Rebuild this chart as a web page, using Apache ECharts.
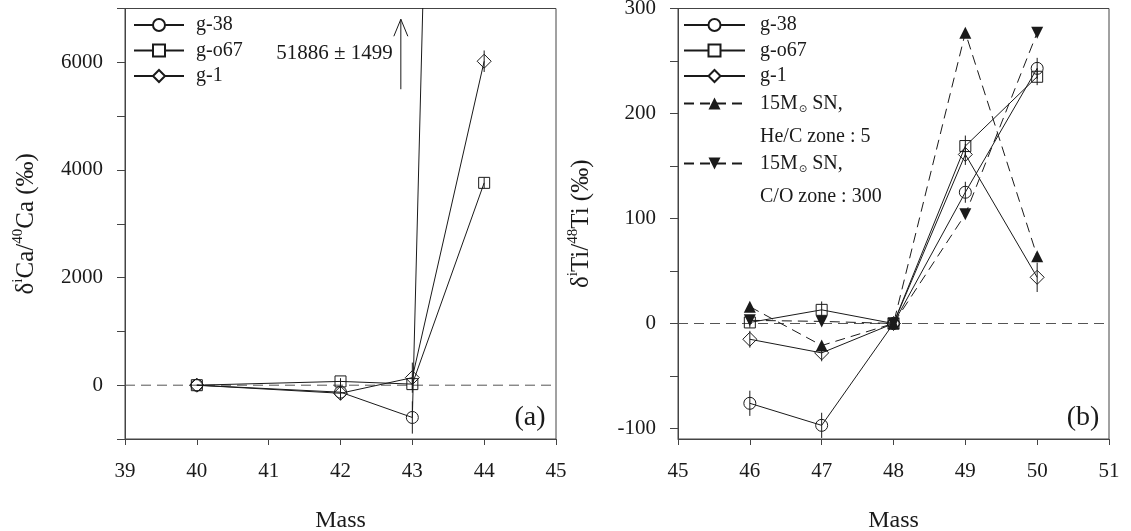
<!DOCTYPE html>
<html><head><meta charset="utf-8">
<script src="https://cdn.jsdelivr.net/npm/echarts@6/dist/echarts.min.js"></script>
<style>html,body{margin:0;padding:0;background:#fff}#c{width:1131px;height:531px}</style>
</head><body><div id="c"></div>
<script>
// ---------- data: panel (a) Ca ----------
const massCa = [40, 42, 43, 44];
const caG38 = [0, -130, -600, 51886];
const caG38Err = [0, 150, 300, 1499];
const caGo67 = [0, 70, 20, 3760];
const caGo67Err = [0, 60, 100, 100];
const caG1 = [0, -150, 140, 6020];
const caG1Err = [0, 120, 280, 200];
const caLabelTicks = [0, 2000, 4000, 6000];
const caXRange = [39, 45];
const caArrow = [42.84, 5500, 6800];      // mass, arrow start, arrow tip (annotation for g-38 at 44)
const caOffscaleValue = 51886;
const caOffscaleErr = 1499;

// ---------- data: panel (b) Ti ----------
const massTi = [46, 47, 48, 49, 50];
const tiG38 = [-76, -97, 0, 125, 243];
const tiG38Err = [12, 12, 0, 10, 10];
const tiGo67 = [1, 13, 0, 169, 235];
const tiGo67Err = [5, 8, 0, 10, 8];
const tiG1 = [-15, -28, 0, 161, 44];
const tiG1Err = [8, 8, 0, 10, 14];
const tiHeC = [16, -21, 0, 277, 64];
const tiCO = [3, 2, 0, 104, 277];
const tiXRange = [45, 51];
const tiLabelTicks = [-100, 0, 100, 200, 300];
const tiMinorTicks = [-100, -50, 0, 50, 100, 150, 200, 250, 300];

// ---------- helpers ----------
const FF = '"Liberation Serif", "Times New Roman", serif';
const INK = '#1a1a1a';
const AX = '#444';
const pts = (xs, ys) => xs.map((x, i) => [x, ys[i]]);
const errs = (xs, ys, es) => xs.map((x, i) => [x, ys[i], es[i]]).filter(d => d[2] > 0);

function zeroSeries(gi, range) {
  return {
    type: 'line', xAxisIndex: gi, yAxisIndex: gi, silent: true, symbol: 'none', z: 1,
    data: [[range[0], 0], [range[1], 0]],
    lineStyle: {color: '#555', width: 1, type: [10, 6]},
    emphasis: {disabled: true}
  };
}
function openSeries(name, gi, data, symbol, size) {
  return {
    name, type: 'line', xAxisIndex: gi, yAxisIndex: gi, data,
    symbol, symbolSize: size, clip: true, z: 3,
    lineStyle: {color: INK, width: 1},
    itemStyle: {color: 'rgba(0,0,0,0)', borderColor: INK, borderWidth: 1},
    emphasis: {disabled: true}
  };
}
function filledSeries(name, gi, data, rotate) {
  return {
    name, type: 'line', xAxisIndex: gi, yAxisIndex: gi, data,
    symbol: 'triangle', symbolSize: 12, symbolRotate: rotate, clip: true, z: 3,
    lineStyle: {color: INK, width: 1, type: [10, 6]},
    itemStyle: {color: INK, borderColor: INK, borderWidth: 0},
    emphasis: {disabled: true}
  };
}
function errSeries(gi, data) {
  return {
    type: 'custom', xAxisIndex: gi, yAxisIndex: gi, clip: true, silent: true, z: 4,
    encode: {x: 0, y: 1},
    data,
    renderItem(params, api) {
      const x = api.value(0), y = api.value(1), e = api.value(2);
      const p1 = api.coord([x, y - e]), p2 = api.coord([x, y + e]);
      return {type: 'line', shape: {x1: p1[0], y1: p1[1], x2: p2[0], y2: p2[1]},
        style: {stroke: INK, lineWidth: 1}};
    }
  };
}

function xAxisCfg(gi, range) {
  return {
    type: 'value', gridIndex: gi, min: range[0], max: range[1], interval: 1,
    axisLine: {show: true, onZero: false, lineStyle: {color: AX, width: 1}},
    axisTick: {show: true, inside: false, length: 6, lineStyle: {color: AX}},
    axisLabel: {margin: 22, fontFamily: FF, fontSize: 21, color: INK},
    splitLine: {show: false},
    name: 'Mass', nameLocation: 'middle', nameGap: 70,
    nameTextStyle: {fontFamily: FF, fontSize: 24, color: INK}
  };
}
const supRich = {
  n: {fontFamily: FF, fontSize: 25, color: INK, lineHeight: 30},
  s: {fontFamily: FF, fontSize: 15, color: INK, verticalAlign: 'top', lineHeight: 30, padding: [0, 0, 9, 0]}
};

const legendRich = (pad) => ({
  t: {fontFamily: FF, fontSize: 20, color: INK, lineHeight: 22, padding: [0, 0, 0, pad]},
  u: {fontFamily: FF, fontSize: 20, color: INK, lineHeight: 33, padding: [0, 0, 0, pad]},
  v: {fontFamily: FF, fontSize: 20, color: INK, lineHeight: 33},
  sun: {fontFamily: '"DejaVu Sans", sans-serif', fontSize: 10, color: INK, lineHeight: 33, padding: [12, 0, 0, 1]},
  sp: {fontSize: 20, lineHeight: 33}
});
const snText = {
  SN5: ['15M', ' SN,', 'He/C zone : 5'],
  SN300: ['15M', ' SN,', 'C/O zone : 300']
};
const snFormatter = (name) => {
  const p = snText[name];
  return '{sp| }\n{u|' + p[0] + '}{sun|⊙}{v|' + p[1] + '}\n{u|' + p[2] + '}';
};
const gLegendData = ['g-38', 'g-o67', 'g-1'].map(n => ({name: n, itemStyle: {color: '#fff'}}));

const option = {
  animation: false,
  backgroundColor: '#fff',
  grid: [
    {left: 125, right: 575, top: 8.5, bottom: 92, show: true, borderColor: AX, borderWidth: 1, backgroundColor: 'rgba(0,0,0,0)', outerBoundsMode: 'none'},
    {left: 678, right: 22, top: 8.5, bottom: 92, show: true, borderColor: AX, borderWidth: 1, backgroundColor: 'rgba(0,0,0,0)', outerBoundsMode: 'none'}
  ],
  xAxis: [xAxisCfg(0, caXRange), xAxisCfg(1, tiXRange)],
  yAxis: [
    {
      type: 'value', gridIndex: 0, min: -1000, max: 7000, interval: 1000,
      axisLine: {show: true, onZero: false, lineStyle: {color: AX}},
      axisTick: {show: true, inside: false, length: 8, lineStyle: {color: AX}},
      axisLabel: {margin: 22, fontFamily: FF, fontSize: 21, color: INK,
        formatter: v => caLabelTicks.includes(v) ? String(v) : ''},
      splitLine: {show: false},
      name: '{n|δ}{s|i}{n|Ca/}{s|40}{n|Ca (‰)}', nameLocation: 'middle', nameGap: 84,
      nameTextStyle: {rich: supRich}
    },
    {
      type: 'value', gridIndex: 1, min: -110, max: 300,
      axisLine: {show: true, onZero: false, lineStyle: {color: AX}},
      axisTick: {show: true, inside: false, length: 8, lineStyle: {color: AX}, customValues: tiMinorTicks},
      axisLabel: {margin: 22, fontFamily: FF, fontSize: 21, color: INK, customValues: tiLabelTicks},
      splitLine: {show: false},
      name: '{n|δ}{s|i}{n|Ti/}{s|48}{n|Ti (‰)}', nameLocation: 'middle', nameGap: 82,
      nameTextStyle: {rich: supRich}
    }
  ],
  legend: [
    {left: 133, top: 15, orient: 'vertical', padding: 0, itemWidth: 50, itemHeight: 15, itemGap: 5.5,
      selectedMode: false, data: gLegendData,
      formatter: n => '{t|' + n + '}', textStyle: {rich: legendRich(7)}},
    {left: 683, top: 15, orient: 'vertical', padding: 0, itemWidth: 61, itemHeight: 15, itemGap: 5.5,
      selectedMode: false, data: gLegendData,
      formatter: n => '{t|' + n + '}', textStyle: {rich: legendRich(10)}},
    {left: 683, top: 60.5, orient: 'vertical', padding: 0, itemWidth: 61, itemHeight: 15,
      selectedMode: false, data: ['SN5'], formatter: snFormatter, textStyle: {rich: legendRich(10)}},
    {left: 683, top: 120.5, orient: 'vertical', padding: 0, itemWidth: 61, itemHeight: 15,
      selectedMode: false, data: ['SN300'], formatter: snFormatter, textStyle: {rich: legendRich(10)}}
  ],
  graphic: [
    {type: 'text', x: 530, y: 418, style: {text: '(a)', fontFamily: FF, fontSize: 28, fill: INK, align: 'center', verticalAlign: 'middle'}},
    {type: 'text', x: 1083, y: 418, style: {text: '(b)', fontFamily: FF, fontSize: 28, fill: INK, align: 'center', verticalAlign: 'middle'}}
  ],
  series: [
    // panel (a)
    zeroSeries(0, caXRange),
    openSeries('g-38', 0, pts(massCa, caG38), 'circle', 12),
    openSeries('g-o67', 0, pts(massCa, caGo67), 'rect', 11),
    openSeries('g-1', 0, pts(massCa, caG1), 'diamond', 14),
    errSeries(0, errs(massCa, caG38, caG38Err)),
    errSeries(0, errs(massCa, caGo67, caGo67Err)),
    errSeries(0, errs(massCa, caG1, caG1Err)),
    {
      type: 'custom', xAxisIndex: 0, yAxisIndex: 0, silent: true, clip: false, z: 5,
      encode: {x: 0, y: 1},
      data: [caArrow],
      renderItem(params, api) {
        const p1 = api.coord([api.value(0), api.value(1)]);
        const p2 = api.coord([api.value(0), api.value(2)]);
        return {type: 'group', children: [
          {type: 'line', shape: {x1: p1[0], y1: p1[1], x2: p2[0], y2: p2[1]}, style: {stroke: INK, lineWidth: 1}},
          {type: 'polyline', shape: {points: [[p2[0] - 7, p2[1] + 17], [p2[0], p2[1]], [p2[0] + 7, p2[1] + 17]]},
            style: {stroke: INK, fill: null, lineWidth: 1}},
          {type: 'text', x: p2[0] - 8, y: (p1[1] + p2[1]) / 2 - 1,
            style: {text: caOffscaleValue + ' ± ' + caOffscaleErr, fontFamily: FF, fontSize: 21, fill: INK,
              align: 'right', verticalAlign: 'middle'}}
        ]};
      }
    },
    // panel (b)
    zeroSeries(1, tiXRange),
    openSeries('g-38', 1, pts(massTi, tiG38), 'circle', 12),
    openSeries('g-o67', 1, pts(massTi, tiGo67), 'rect', 11),
    openSeries('g-1', 1, pts(massTi, tiG1), 'diamond', 14),
    filledSeries('SN5', 1, pts(massTi, tiHeC), 0),
    filledSeries('SN300', 1, pts(massTi, tiCO), 180),
    errSeries(1, errs(massTi, tiG38, tiG38Err)),
    errSeries(1, errs(massTi, tiGo67, tiGo67Err)),
    errSeries(1, errs(massTi, tiG1, tiG1Err))
  ]
};
const chart = echarts.init(document.getElementById('c'), null, {renderer: 'canvas'});
chart.setOption(option);
</script>
</body></html>
